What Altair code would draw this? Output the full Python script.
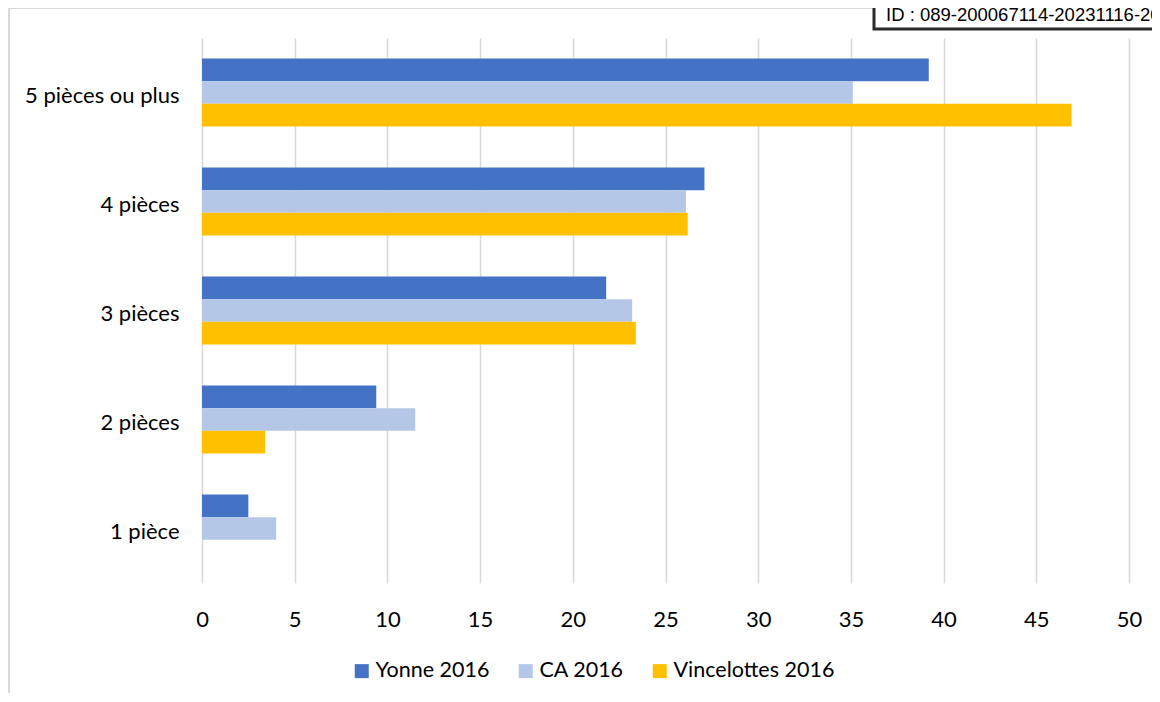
import altair as alt
import pandas as pd

categories = ["5 pièces ou plus", "4 pièces", "3 pièces", "2 pièces", "1 pièce"]
series = ["Yonne 2016", "CA 2016", "Vincelottes 2016"]
yonne = [39.2, 27.1, 21.8, 9.4, 2.5]
ca = [35.1, 26.1, 23.2, 11.5, 4.0]
vincelottes = [46.9, 26.2, 23.4, 3.4, 0.0]
colors = ["#4472C4", "#B4C7E7", "#FFC000"]
x_ticks = [0, 5, 10, 15, 20, 25, 30, 35, 40, 45, 50]
stamp_text = ["ID : 089-200067114-20231116-20"]

rows = []
for name, vals in zip(series, [yonne, ca, vincelottes]):
    for c, v in zip(categories, vals):
        rows.append({"cat": c, "serie": name, "val": v})
df = pd.DataFrame(rows)

FONT = "Lato"

bars = alt.Chart(df).mark_bar(clip=False).encode(
    y=alt.Y("cat:N", sort=categories,
            scale=alt.Scale(paddingInner=0.376, paddingOuter=0.188),
            axis=alt.Axis(title=None, domain=False, ticks=False, grid=False,
                          labelFontSize=22, labelFont=FONT, labelColor="#000000",
                          labelPadding=23, labelOffset=3)),
    yOffset=alt.YOffset("serie:N", sort=series, scale=alt.Scale(domain=series)),
    x=alt.X("val:Q", scale=alt.Scale(domain=[0, 50], nice=False),
            axis=alt.Axis(title=None, values=x_ticks, domain=False, ticks=False,
                          grid=True, gridColor="#D9D9D9", gridWidth=1.6,
                          labelFontSize=22, labelFont=FONT, labelColor="#000000",
                          labelPadding=26, labelFlush=False)),
    color=alt.Color("serie:N", sort=series,
                    scale=alt.Scale(domain=series, range=colors),
                    legend=alt.Legend(title=None, orient="none", direction="horizontal",
                                      legendX=149, legendY=622, symbolType="square",
                                      symbolSize=196, symbolStrokeWidth=0,
                                      labelFontSize=21.5, labelFont=FONT,
                                      labelColor="#000000", labelOffset=3,
                                      labelLimit=400, columnPadding=25, padding=0)),
)

frame = alt.Chart(pd.DataFrame({"a": [0]})).mark_rect(
    fill=None, stroke="#D9D9D9", strokeWidth=2, clip=False
).encode(x=alt.value(-193), x2=alt.value(1100), y=alt.value(-30), y2=alt.value(800))

stamp_box = alt.Chart(pd.DataFrame({"a": [0]})).mark_rect(
    fill="#FFFFFF", stroke="#2B2B2B", strokeWidth=3, clip=False
).encode(x=alt.value(672), x2=alt.value(1100), y=alt.value(-60), y2=alt.value(-9))

stamp = alt.Chart(pd.DataFrame({"t": stamp_text})).mark_text(
    align="left", baseline="alphabetic", font="Liberation Sans", fontSize=18.5,
    color="#000000", clip=False
).encode(x=alt.value(684), y=alt.value(-17), text="t:N")

chart = alt.layer(frame, bars, stamp_box, stamp).properties(
    width=927, height=545,
    autosize=alt.AutoSizeParams(type="none"),
    padding={"left": 194, "top": 30, "right": 23, "bottom": 110},
).configure(background="#FFFFFF", view=alt.ViewConfig(stroke=None))

chart.save("out.html", embed_options={"renderer": "svg", "actions": False})
